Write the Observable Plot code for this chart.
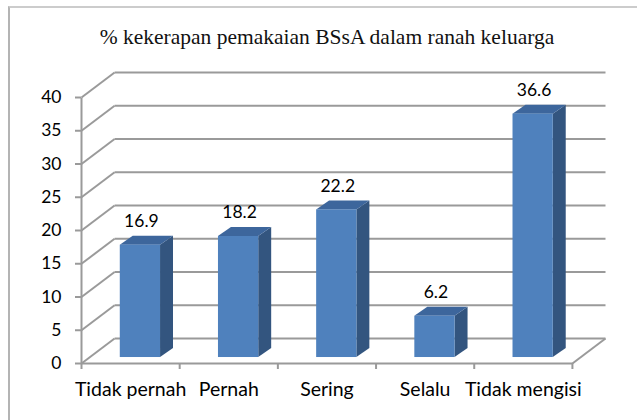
<!DOCTYPE html>
<html>
<head>
<meta charset="utf-8">
<script src="https://cdn.jsdelivr.net/npm/d3@7"></script>
<script src="https://cdn.jsdelivr.net/npm/@observablehq/plot@0.6"></script>
<style>
  html, body { margin: 0; padding: 0; background: #fff; }
  #wrap { position: relative; width: 637px; height: 420px; overflow: hidden; }
  #border { position: absolute; left: 8px; top: 6px; width: 700px; height: 500px;
            border-left: 2px solid #b4b4b4; border-top: 2px solid #cccccc; }
  #title { position: absolute; left: 0; width: 654px; top: 25px; text-align: center;
           font-family: "Liberation Serif", "DejaVu Serif", serif; font-size: 21.5px; color: #111; }
  #chart { position: absolute; left: 0; top: 0; }
</style>
</head>
<body>
<div id="wrap">
  <div id="border"></div>
  <div id="chart"></div>
  <div id="title">% kekerapan pemakaian BSsA dalam ranah keluarga</div>
</div>
<script>
const categories = ["Tidak pernah", "Pernah", "Sering", "Selalu", "Tidak mengisi"];
const values = [16.9, 18.2, 22.2, 6.2, 36.6];
const yTicks = [0, 5, 10, 15, 20, 25, 30, 35, 40];

// 3D projection parameters (data units)
const DX = 0.337, DY = 3.76;      // full depth of the walls
const OX = 0.10, OY = 0.9;        // depth offset of bars' front face
const W = 0.41;                   // bar width
const SX = 0.132, SY = 1.35;      // bar depth
const n = categories.length;

const bars = categories.map((c, i) => {
  const x1 = i + 0.5 - W / 2 + OX, x2 = x1 + W;
  return {c, v: values[i], x1, x2, y1: OY, y2: values[i] + OY};
});
const sideFaces = bars.flatMap(b => [
  {c: b.c, x: b.x2, lo: b.y1, hi: b.y2},
  {c: b.c, x: b.x2 + SX, lo: b.y1 + SY, hi: b.y2 + SY}
]);
const topFaces = bars.flatMap(b => [
  {c: b.c, y: b.y2, l: b.x1, r: b.x2},
  {c: b.c, y: b.y2 + SY, l: b.x1 + SX, r: b.x2 + SX}
]);

const grid = "#9a9a9a";
const font = "Lato, 'Open Sans', sans-serif";

const chart = Plot.plot({
  width: 637,
  height: 420,
  marginLeft: 81,
  marginRight: 32,
  marginTop: 72,
  marginBottom: 57,
  style: {fontFamily: font, fontSize: "17px", color: "#000", background: "transparent"},
  x: {type: "linear", domain: [0, n + DX]},
  y: {type: "linear", domain: [0, 40 + DY]},
  marks: [
    // back wall gridlines
    Plot.link(yTicks, {x1: DX, x2: n + DX, y1: d => d + DY, y2: d => d + DY, stroke: grid, strokeWidth: 2}),
    // left wall diagonals
    Plot.link(yTicks, {x1: 0, x2: DX, y1: d => d, y2: d => d + DY, stroke: grid, strokeWidth: 2}),
    // floor right edge and front edge
    Plot.link([0], {x1: n, x2: n + DX, y1: 0, y2: DY, stroke: grid, strokeWidth: 2}),
    Plot.link([0], {x1: 0, x2: n, y1: 0, y2: 0, stroke: grid, strokeWidth: 2}),
    // front y axis line
    Plot.link([0], {x1: 0, x2: 0, y1: 0, y2: 40, stroke: grid, strokeWidth: 2}),
    // bars: side, top, front
    Plot.areaY(sideFaces, {x: "x", y1: "lo", y2: "hi", z: "c", fill: "#33557f", curve: "linear"}),
    Plot.areaX(topFaces, {y: "y", x1: "l", x2: "r", z: "c", fill: "#3d669c", curve: "linear"}),
    Plot.rect(bars, {x1: "x1", x2: "x2", y1: "y1", y2: "y2", fill: "#4f81bd"}),
    // value labels
    Plot.text(bars, {x: d => (d.x1 + d.x2) / 2 + 0.01, y: d => d.y2 + SY, text: d => d.v.toFixed(1),
      dy: -15, fontSize: 17.5, fill: "#000"}),
    // axes
    Plot.axisY({ticks: yTicks, tickSize: 6, tickPadding: 14, stroke: grid, strokeWidth: 2,
      fontSize: 17.5, fill: "#000", label: null}),
    Plot.axisX({ticks: d3.range(n + 1), tickSize: 6, tickFormat: () => "", stroke: grid, strokeWidth: 2, label: null}),
    Plot.axisX({ticks: d3.range(n).map(i => i + 0.5), tickSize: 0, tickPadding: 19,
      tickFormat: t => categories[Math.floor(t)], fontSize: 19.5, fill: "#000", label: null})
  ]
});
document.getElementById("chart").appendChild(chart);
</script>
</body>
</html>
